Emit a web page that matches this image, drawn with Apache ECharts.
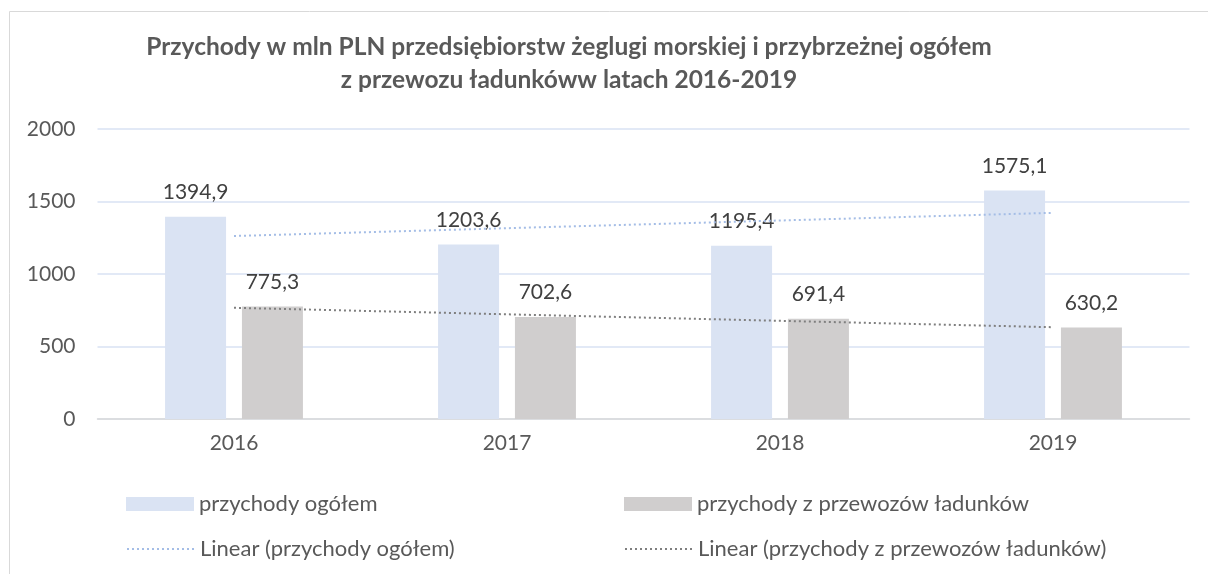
<!DOCTYPE html>
<html>
<head>
<meta charset="utf-8">
<script src="https://cdn.jsdelivr.net/npm/echarts@6/dist/echarts.min.js"></script>
<style>
    html, body { margin: 0; padding: 0; background: #fff; overflow: hidden; }
    #chart { width: 1208px; height: 574px; }
</style>
</head>
<body>
<div id="chart"></div>
<script>
const years = ['2016', '2017', '2018', '2019'];
const totalRevenue = [1394.9, 1203.6, 1195.4, 1575.1];
const cargoRevenue = [775.3, 702.6, 691.4, 630.2];
// trend lines (Excel linear trendlines)
const totalTrend = [1262, 1316, 1369, 1422];
const cargoTrend = [767, 722, 677, 633];

const FONT = 'Lato';
const TEXT = '#595959';

const names = [
    'przychody ogółem',
    'przychody z przewozów ładunków',
    'Linear (przychody ogółem)',
    'Linear (przychody z przewozów ładunków)'
];

const myChart = echarts.init(document.getElementById('chart'));

function legendAt(name, left, top, isLine) {
    const lg = {
        data: [name],
        left: left,
        top: top,
        padding: 0,
        itemWidth: 68,
        itemHeight: 14,
        selectedMode: false,
        textStyle: { fontFamily: FONT, fontSize: 22, color: TEXT }
    };
    // hide the marker dot on the trendline legend icons
    if (isLine) lg.itemStyle = { opacity: 0 };
    else lg.icon = 'rect';
    return lg;
}

const barLabel = {
    show: true,
    position: 'top',
    distance: 14,
    fontFamily: FONT,
    fontSize: 21,
    color: '#404040',
    formatter: p => String(p.value).replace('.', ',')
};

const option = {
    animation: false,
    title: {
        text: 'Przychody w mln PLN przedsiębiorstw żeglugi morskiej i przybrzeżnej ogółem\nz przewozu ładunkóww latach 2016-2019',
        left: 564,
        top: 26,
        textAlign: 'center',
        textStyle: {
            fontFamily: FONT,
            fontSize: 24.5,
            fontWeight: 'bold',
            color: TEXT,
            lineHeight: 33
        }
    },
    graphic: [{
        type: 'rect',
        shape: { x: 9.5, y: 11.5, width: 1400, height: 800 },
        style: { fill: null, stroke: '#d9d9d9', lineWidth: 1 },
        silent: true
    }],
    legend: [
        legendAt(names[0], 126, 493, false),
        legendAt(names[1], 624, 493, false),
        legendAt(names[2], 126, 538, true),
        legendAt(names[3], 624, 538, true)
    ],
    grid: { left: 97.5, right: 18.5, top: 129, bottom: 155 },
    xAxis: {
        type: 'category',
        data: years,
        axisLine: { lineStyle: { color: '#d9d9d9', width: 1.5 } },
        axisTick: { show: false },
        axisLabel: { fontFamily: FONT, fontSize: 21, color: TEXT, margin: 14 }
    },
    yAxis: {
        type: 'value',
        min: 0,
        max: 2000,
        interval: 500,
        axisLine: { show: false },
        axisTick: { show: false },
        axisLabel: {
            fontFamily: FONT, fontSize: 21, color: TEXT, margin: 22,
            formatter: v => String(v)
        },
        splitLine: { lineStyle: { color: '#d9e2f3', width: 1.5 } }
    },
    series: [
        {
            name: names[0],
            type: 'bar',
            data: totalRevenue,
            barWidth: 61,
            barGap: '26%',
            itemStyle: { color: '#dae3f3' },
            label: barLabel
        },
        {
            name: names[1],
            type: 'bar',
            data: cargoRevenue,
            barWidth: 61,
            itemStyle: { color: '#d0cece' },
            label: barLabel
        },
        {
            name: names[2],
            type: 'line',
            data: totalTrend,
            symbol: 'none',
            silent: true,
            z: 5,
            itemStyle: { color: '#a4bde6' },
            lineStyle: { color: '#a4bde6', width: 2, type: [2, 3] }
        },
        {
            name: names[3],
            type: 'line',
            data: cargoTrend,
            symbol: 'none',
            silent: true,
            z: 5,
            itemStyle: { color: '#7f7f7f' },
            lineStyle: { color: '#7f7f7f', width: 2, type: [2, 3] }
        }
    ]
};

option && myChart.setOption(option);
</script>
</body>
</html>
